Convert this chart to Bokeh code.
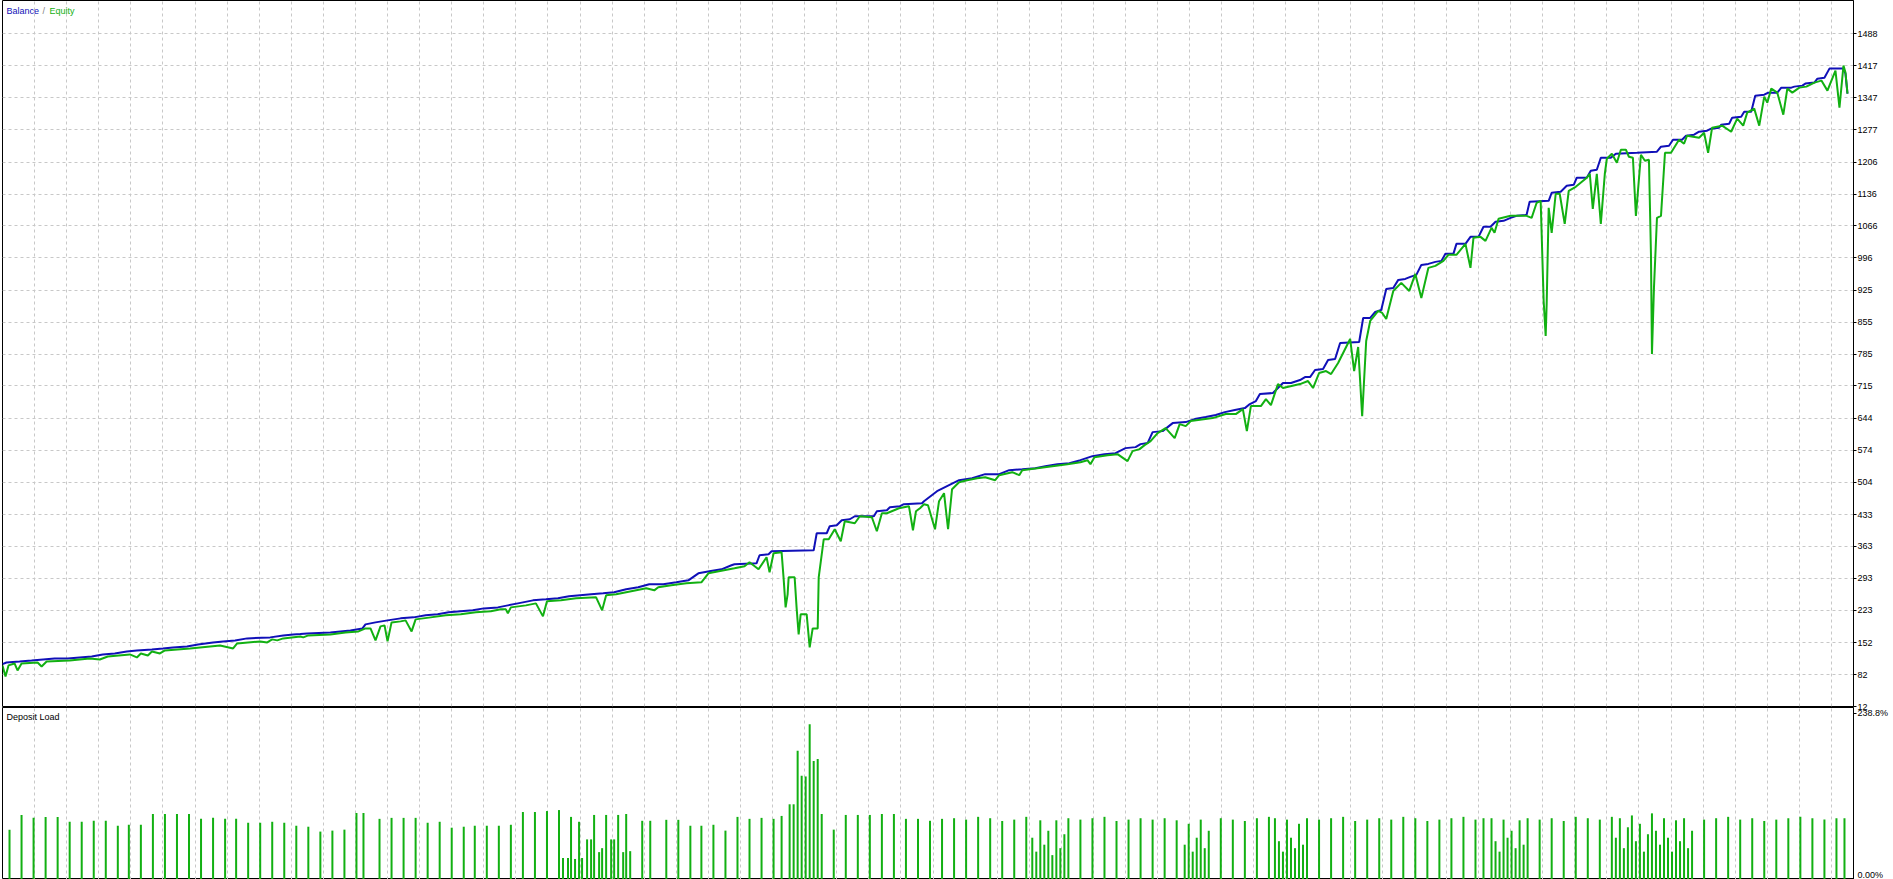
from bokeh.plotting import figure
from bokeh.models import Range1d, FixedTicker, Label, CustomJSTickFormatter
from bokeh.layouts import column
from bokeh.embed import file_html
from bokeh.resources import INLINE

# ---------------- data ----------------
balance_t = [3, 7, 20, 32, 55, 68, 92, 103, 115, 127, 137, 152, 163, 173, 187, 198, 213, 223, 235, 247,
             270, 283, 293, 300, 307, 330, 340, 350, 362, 365, 375, 387, 400, 413, 425, 437, 448, 460, 472, 483,
             497, 507, 517, 532, 545, 557, 568, 590, 602, 613, 625, 637, 648, 662, 675, 687, 697, 708, 720, 730,
             733, 755, 758, 767, 770, 812, 815, 825, 828, 835, 840, 848, 853, 872, 875, 885, 888, 898, 902, 920,
             922, 935, 945, 957, 970, 983, 997, 1007, 1020, 1033, 1043, 1055, 1067, 1078, 1090, 1102, 1113, 1123, 1133, 1138,
             1145, 1150, 1160, 1170, 1183, 1192, 1203, 1213, 1222, 1232, 1242, 1247, 1253, 1257, 1270, 1280, 1288, 1297, 1302, 1307,
             1312, 1320, 1325, 1332, 1337, 1356, 1360, 1367, 1372, 1378, 1383, 1390, 1395, 1402, 1407, 1413, 1418, 1425, 1432, 1438,
             1442, 1450, 1453, 1462, 1467, 1475, 1480, 1487, 1492, 1500, 1507, 1513, 1523, 1526, 1545, 1548, 1557, 1563, 1570, 1573,
             1583, 1587, 1593, 1597, 1607, 1612, 1633, 1653, 1657, 1665, 1669, 1678, 1682, 1690, 1695, 1703, 1707, 1715, 1717, 1725,
             1728, 1737, 1740, 1747, 1751, 1760, 1764, 1773, 1777, 1787, 1790, 1798, 1801, 1810, 1813, 1820, 1825, 1839, 1841, 1843]
balance_v = [104.9, 108.6, 110.8, 113.0, 117.4, 117.4, 121.8, 126.2, 128.4, 132.8, 135.0, 137.2, 139.4, 141.6, 143.8, 148.2, 152.6, 154.8, 157.0, 161.4,
             163.6, 167.9, 170.1, 170.8, 172.3, 174.5, 176.7, 178.9, 183.3, 192.1, 196.5, 200.9, 205.3, 207.5, 211.9, 214.1, 218.5, 220.7, 222.9, 227.2,
             229.4, 233.8, 238.2, 244.8, 247.0, 249.2, 253.6, 258.0, 260.2, 262.4, 269.0, 273.4, 280.0, 280.0, 284.4, 288.7, 304.1, 308.5, 312.9, 321.7,
             323.9, 326.1, 343.7, 345.9, 352.4, 354.6, 392.0, 392.0, 407.4, 409.5, 420.5, 422.7, 429.3, 429.3, 440.3, 442.5, 449.1, 451.3, 455.7, 457.9,
             462.3, 484.2, 495.2, 508.4, 512.8, 521.6, 521.6, 530.4, 532.5, 534.7, 539.1, 543.5, 545.7, 552.3, 561.1, 565.5, 567.7, 578.7, 580.9, 587.5,
             589.7, 613.8, 616.0, 633.6, 635.8, 642.4, 646.8, 651.2, 657.7, 662.1, 666.5, 675.3, 681.9, 697.3, 699.5, 721.4, 721.4, 728.0, 734.6, 734.6,
             750.0, 752.2, 772.0, 774.2, 809.3, 811.5, 864.2, 864.2, 877.4, 881.8, 927.9, 930.1, 947.7, 949.9, 954.3, 958.7, 980.6, 982.8, 987.2, 989.4,
             1004.8, 1004.8, 1026.7, 1026.7, 1042.1, 1042.1, 1064.1, 1064.1, 1075.1, 1077.3, 1083.8, 1088.2, 1090.4, 1119.0, 1121.2, 1138.8, 1141.0, 1154.1, 1156.3, 1171.7,
             1171.7, 1187.1, 1189.3, 1215.6, 1215.6, 1224.4, 1226.6, 1228.8, 1239.8, 1242.0, 1255.2, 1255.2, 1264.0, 1266.1, 1272.7, 1274.9, 1279.3, 1281.5, 1288.1, 1290.3,
             1303.5, 1305.7, 1316.7, 1316.7, 1351.8, 1354.0, 1358.4, 1358.4, 1369.4, 1369.4, 1371.6, 1373.8, 1378.2, 1380.4, 1389.1, 1391.3, 1411.1, 1411.1, 1400.1, 1356.2]

equity_t = [3, 6, 9, 15, 18, 22, 38, 42, 47, 70, 90, 100, 108, 130, 137, 141, 148, 152, 160, 165,
            190, 220, 233, 237, 260, 267, 272, 277, 283, 300, 303, 308, 330, 345, 358, 365, 370, 375, 380, 384,
            387, 391, 400, 405, 411, 415, 430, 445, 460, 475, 490, 500, 505, 507, 510, 525, 535, 542, 546, 560,
            575, 595, 601, 605, 615, 630, 645, 653, 657, 670, 685, 700, 707, 733, 743, 748, 757, 765, 768, 772,
            780, 782, 784, 786, 787, 793, 795, 797, 799, 805, 808, 811, 816, 817, 822, 827, 833, 839, 843, 853,
            858, 870, 875, 880, 885, 897, 907, 911, 914, 918, 922, 926, 933, 937, 942, 946, 950, 957, 965, 975,
            983, 993, 997, 1010, 1017, 1020, 1035, 1050, 1065, 1078, 1085, 1088, 1092, 1105, 1115, 1125, 1130, 1137, 1142, 1148,
            1155, 1163, 1172, 1177, 1183, 1188, 1210, 1223, 1233, 1240, 1244, 1248, 1258, 1263, 1268, 1275, 1280, 1297, 1305, 1310,
            1316, 1323, 1328, 1335, 1347, 1351, 1355, 1359, 1363, 1367, 1375, 1379, 1383, 1390, 1398, 1406, 1412, 1418, 1425, 1432,
            1440, 1445, 1453, 1462, 1467, 1470, 1477, 1482, 1488, 1491, 1495, 1507, 1523, 1528, 1533, 1537, 1538, 1540, 1542, 1543,
            1545, 1548, 1552, 1556, 1561, 1565, 1572, 1583, 1586, 1589, 1593, 1597, 1601, 1603, 1608, 1613, 1617, 1622, 1625, 1629,
            1632, 1637, 1641, 1645, 1647, 1648, 1650, 1653, 1657, 1661, 1667, 1675, 1680, 1683, 1695, 1700, 1704, 1708, 1718, 1727,
            1733, 1739, 1743, 1750, 1755, 1760, 1763, 1767, 1773, 1779, 1783, 1788, 1795, 1802, 1810, 1817, 1823, 1831, 1835, 1839,
            1841, 1843]
equity_v = [102.1, 77.9, 102.1, 106.4, 91.1, 106.4, 108.6, 99.9, 110.8, 113.0, 117.4, 115.2, 121.8, 126.2, 119.6, 128.4, 124.0, 132.8, 128.4, 135.0,
            139.4, 146.0, 139.4, 150.4, 154.8, 152.6, 159.2, 157.0, 161.4, 165.7, 163.6, 167.9, 170.1, 174.5, 176.7, 183.3, 183.3, 157.0, 187.7, 189.9,
            154.8, 196.5, 198.7, 200.9, 176.7, 203.1, 207.5, 211.9, 214.1, 218.5, 220.7, 225.1, 225.1, 216.3, 229.4, 233.8, 238.2, 209.7, 242.6, 244.8,
            249.2, 251.4, 222.9, 255.8, 258.0, 264.6, 271.2, 266.8, 273.4, 277.8, 282.2, 284.4, 304.1, 315.1, 319.5, 328.3, 312.9, 339.3, 306.3, 348.0,
            350.2, 293.1, 229.4, 258.0, 295.3, 295.3, 227.2, 170.1, 214.1, 214.1, 141.6, 183.3, 183.3, 295.3, 378.8, 378.8, 400.8, 374.4, 418.3, 414.0,
            429.3, 427.1, 396.4, 435.9, 435.9, 446.9, 451.3, 398.6, 440.3, 446.9, 455.7, 453.5, 400.8, 462.3, 479.8, 400.8, 488.6, 504.0, 508.4, 512.8,
            515.0, 508.4, 519.4, 526.0, 519.4, 530.4, 534.7, 539.1, 543.5, 547.9, 552.3, 543.5, 558.9, 563.3, 565.5, 550.1, 572.1, 576.5, 585.3, 594.0,
            611.6, 622.6, 600.6, 631.4, 627.0, 638.0, 644.6, 653.4, 653.4, 664.3, 616.0, 670.9, 670.9, 686.3, 673.1, 719.2, 710.5, 719.2, 725.8, 710.5,
            743.4, 747.8, 741.2, 765.4, 818.1, 747.8, 800.5, 649.0, 813.7, 857.6, 879.6, 875.2, 862.0, 923.5, 941.1, 923.5, 960.8, 908.1, 974.0, 978.4,
            989.4, 1002.6, 1002.6, 1026.7, 974.0, 1039.9, 1042.1, 1033.3, 1061.9, 1050.9, 1081.6, 1088.2, 1088.2, 1083.8, 1116.8, 1121.2, 1048.7, 901.5, 824.7, 895.0,
            1105.8, 1050.9, 1136.6, 1136.6, 1070.7, 1143.1, 1151.9, 1171.7, 1180.5, 1103.6, 1180.5, 1070.7, 1180.5, 1213.4, 1224.4, 1204.6, 1233.2, 1233.2, 1217.8, 1215.6,
            1088.2, 1222.2, 1209.0, 1211.2, 1004.8, 785.1, 930.1, 1083.8, 1088.2, 1226.6, 1226.6, 1255.2, 1246.4, 1264.0, 1259.6, 1270.5, 1226.6, 1281.5, 1285.9, 1272.7,
            1301.3, 1285.9, 1314.5, 1323.3, 1285.9, 1349.6, 1336.4, 1367.2, 1358.4, 1310.1, 1367.2, 1358.4, 1369.4, 1371.6, 1380.4, 1384.8, 1362.8, 1406.7, 1325.5, 1417.7,
            1402.3, 1356.2]

load_t = [10, 22, 34, 46, 58, 70, 82, 94, 106, 118, 129, 141, 153, 165, 177, 189, 201, 213, 225, 236,
          248, 260, 272, 284, 296, 308, 320, 332, 344, 356, 363, 379, 391, 403, 415, 427, 439, 451, 463, 474,
          486, 498, 510, 522, 534, 546, 558, 562, 567, 570, 574, 578, 581, 586, 590, 593, 598, 601, 605, 610,
          613, 617, 622, 625, 629, 641, 649, 665, 677, 689, 700, 712, 724, 736, 748, 760, 772, 780, 788, 792,
          796, 800, 804, 808, 812, 816, 820, 832, 844, 856, 868, 880, 892, 904, 916, 928, 940,
          952, 964, 976, 988, 1000, 1012, 1024, 1030, 1034, 1038, 1042, 1046, 1050, 1054, 1058, 1062, 1066,
          1078, 1090, 1102, 1114, 1126, 1138, 1150, 1162, 1174, 1182, 1186, 1190, 1194, 1198, 1202, 1206,
          1218, 1230, 1242, 1254, 1266, 1272, 1276, 1280, 1284, 1288, 1292, 1296, 1300, 1304,
          1316, 1328, 1340, 1352, 1364, 1376, 1388, 1400, 1412, 1424, 1436, 1448, 1460, 1472, 1480,
          1488, 1492, 1496, 1500, 1504, 1508, 1512, 1516, 1520, 1524,
          1536, 1548, 1560, 1572, 1584, 1596, 1608, 1612, 1616, 1620, 1624, 1628, 1632, 1636, 1640, 1644,
          1648, 1652, 1656, 1660, 1664, 1668, 1672, 1676, 1680, 1684, 1688,
          1700, 1712, 1724, 1736, 1748, 1760, 1772, 1784, 1796, 1808, 1820, 1832, 1840]
load_v = [71.6, 92.7, 88.5, 89.9, 89.9, 82.9, 82.9, 84.3, 84.3, 77.2, 78.6, 78.6, 94.1, 94.1, 94.1, 94.1, 87.1, 88.5, 87.1, 87.1,
          81.5, 81.5, 82.9, 81.5, 77.2, 75.8, 68.8, 70.2, 71.6, 95.5, 95.5, 87.1, 88.5, 88.5, 88.5, 81.5, 82.9, 74.4, 75.8, 77.2,
          77.2, 77.2, 78.6, 96.9, 96.9, 98.3, 99.7, 30.9, 30.9, 89.9, 29.5, 82.9, 30.9, 57.6, 57.6, 92.7, 39.3, 45.0, 92.7, 57.6,
          57.6, 92.7, 39.3, 94.1, 40.7, 84.3, 84.3, 85.7, 85.7, 77.2, 77.2, 78.6, 70.2, 89.9, 87.1, 88.5, 87.1, 91.3, 108.0, 108.0,
          185.0, 149.0, 148.0, 223.0, 170.0, 173.0, 94.1, 71.6, 92.7, 92.7, 92.7, 94.1, 94.1, 87.1, 87.1, 84.3, 87.1,
          88.0, 86.0, 90.0, 88.0, 84.0, 86.0, 90.0, 60.0, 40.0, 85.0, 50.0, 70.0, 35.0, 85.0, 45.0, 65.0, 88.0,
          86.0, 88.0, 90.0, 84.0, 86.0, 88.0, 86.0, 88.0, 85.0, 50.0, 80.0, 40.0, 60.0, 86.0, 45.0, 70.0,
          88.0, 86.0, 84.0, 88.0, 90.0, 88.0, 55.0, 40.0, 86.0, 60.0, 45.0, 80.0, 50.0, 88.0,
          86.0, 88.0, 90.0, 84.0, 86.0, 88.0, 86.0, 90.0, 88.0, 84.0, 86.0, 88.0, 90.0, 86.0, 88.0,
          88.0, 55.0, 40.0, 86.0, 60.0, 70.0, 45.0, 85.0, 50.0, 88.0,
          86.0, 88.0, 84.0, 90.0, 88.0, 86.0, 90.0, 60.0, 88.0, 45.0, 75.0, 92.0, 55.0, 80.0, 40.0, 65.0,
          95.0, 70.0, 50.0, 88.0, 60.0, 40.0, 85.0, 55.0, 88.0, 45.0, 70.0,
          86.0, 88.0, 90.0, 86.0, 88.0, 84.0, 86.0, 88.0, 90.0, 88.0, 86.0, 88.0, 88.0]

price_ticks = [12, 82, 152, 223, 293, 363, 433, 504, 574, 644, 715, 785, 855, 925, 996, 1066,
               1136, 1206, 1277, 1347, 1417, 1488]
load_ticks = [0, 238.8]

# ---------------- style ----------------
BLUE = "#1010b8"
GREEN = "#12b012"
GRID = "#c8c8c8"
FONT = "Liberation Sans"
W = 1893

x_range = Range1d(3, 1849)
grid_x = list(range(35, 1849, 32))

top = figure(width=W, height=712, x_range=x_range, y_range=Range1d(12, 1560.5),
             output_backend="svg", toolbar_location=None,
             x_axis_location=None, y_axis_location="right",
             min_border_left=2, min_border_right=40, min_border_top=0, min_border_bottom=6,
             background_fill_color="white", border_fill_color="white",
             outline_line_color="black", outline_line_width=1)

bot = figure(width=W, height=172, x_range=x_range, y_range=Range1d(0, 247),
             output_backend="svg", toolbar_location=None,
             x_axis_location=None, y_axis_location="right",
             min_border_left=2, min_border_right=40, min_border_top=0, min_border_bottom=0,
             background_fill_color="white", background_fill_alpha=0.0,
             border_fill_color="white", border_fill_alpha=0.0,
             outline_line_color="black", outline_line_width=1,
             margin=(-5, 0, 0, 0))

for p in (top, bot):
    p.xgrid.ticker = FixedTicker(ticks=grid_x)
    p.xgrid.grid_line_color = GRID
    p.xgrid.grid_line_dash = "3 3"
    p.xgrid.grid_line_width = 1
    ax = p.yaxis[0]
    ax.axis_line_color = "black"
    ax.major_tick_out = 3
    ax.major_tick_in = 0
    ax.minor_tick_out = 0
    ax.minor_tick_in = 0
    ax.major_tick_line_color = "black"
    ax.major_label_standoff = 1
    ax.major_label_text_font = FONT
    ax.major_label_text_font_size = "9px"
    ax.major_label_text_color = "#000000"

top.yaxis[0].ticker = FixedTicker(ticks=price_ticks)
top.ygrid.ticker = FixedTicker(ticks=price_ticks)
top.ygrid.grid_line_color = GRID
top.ygrid.grid_line_dash = "3 3"

bot.ygrid.visible = False
bot.yaxis[0].ticker = FixedTicker(ticks=load_ticks)
bot.yaxis[0].formatter = CustomJSTickFormatter(
    code="return tick == 0 ? '0.00%' : tick.toFixed(1) + '%';")

top.line(balance_t, balance_v, line_color=BLUE, line_width=2)
top.line(equity_t, equity_v, line_color=GREEN, line_width=2)

bot.vbar(x=load_t, top=load_v, bottom=0, width=2, fill_color=GREEN, line_color=None)

for txt, off, col in (("Balance", 4, BLUE), ("/", 40, "#808080"), ("Equity", 47, GREEN)):
    top.add_layout(Label(x=3, y=1560.5, x_offset=off, y_offset=-5, text=txt,
                         text_font=FONT, text_font_size="9px", text_color=col,
                         text_baseline="top", text_align="left"))

bot.add_layout(Label(x=3, y=247, x_offset=4, y_offset=-4, text="Deposit Load",
                     text_font=FONT, text_font_size="9px", text_color="#000000",
                     text_baseline="top", text_align="left"))

layout = column(top, bot, spacing=0)
open("out.html", "w").write(file_html(layout, INLINE))
